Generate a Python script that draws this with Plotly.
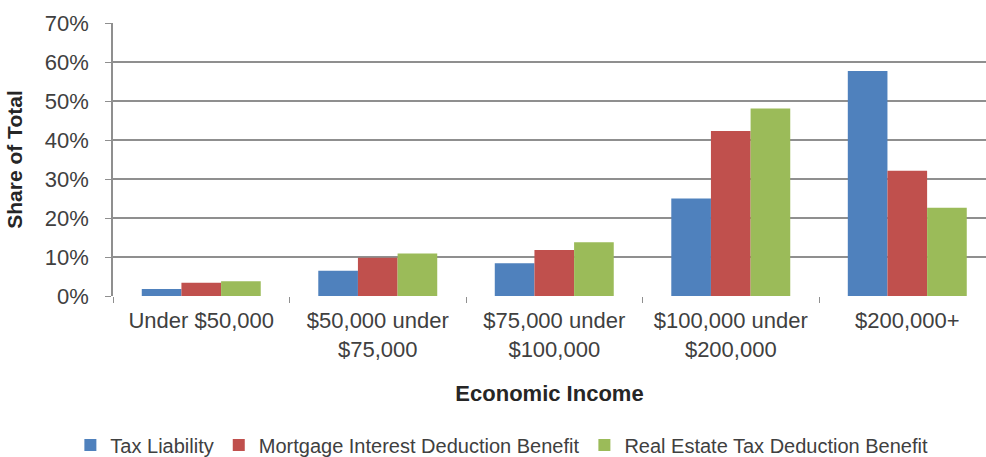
import plotly.graph_objects as go

categories = ["Under $50,000", "$50,000 under<br>$75,000", "$75,000 under<br>$100,000",
              "$100,000 under<br>$200,000", "$200,000+"]
tax_liability = [1.8, 6.5, 8.4, 25.0, 57.7]
mortgage_interest = [3.4, 9.8, 11.8, 42.3, 32.1]
real_estate_tax = [3.8, 10.9, 13.8, 48.1, 22.6]
y_ticks = [0, 10, 20, 30, 40, 50, 60, 70]
y_tick_labels = [f"{v}%" for v in y_ticks]

FONT = "Arial, 'Liberation Sans', sans-serif"

fig = go.Figure()
for name, vals, color in [
    ("Tax Liability", tax_liability, "#4F81BD"),
    ("Mortgage Interest Deduction Benefit", mortgage_interest, "#C0504D"),
    ("Real Estate Tax Deduction Benefit", real_estate_tax, "#9BBB59"),
]:
    fig.add_trace(go.Bar(x=categories, y=vals, name=name, marker=dict(color=color, line=dict(width=0))))

fig.update_layout(
    width=986, height=457,
    margin=dict(l=113, r=0, t=23, b=161, autoexpand=False),
    paper_bgcolor="white", plot_bgcolor="white",
    barmode="group", bargap=0.326, bargroupgap=0,
    font=dict(family=FONT, size=22, color="#404040"),
    showlegend=True,
    legend=dict(orientation="h", xref="container", x=0.509, xanchor="center",
                yref="container", y=0.026, yanchor="middle",
                font=dict(size=20, color="#404040"), itemwidth=30,
                traceorder="normal"),
    xaxis=dict(
        range=[-0.5, 4.446], showgrid=False, showline=False,
        ticks="outside", tickson="boundaries", ticklen=6, tickcolor="#8f8f8f",
        tickfont=dict(size=22, color="#404040"), ticklabelstandoff=9,
        title=dict(text="<b>Economic Income</b>", font=dict(size=22, color="#262626"), standoff=25),
        zeroline=False, automargin=False,
    ),
    yaxis=dict(
        range=[0, 70], tickvals=y_ticks, ticktext=y_tick_labels,
        showgrid=True, gridcolor="#8f8f8f", gridwidth=1.5,
        showline=True, linecolor="#8f8f8f", linewidth=1.5,
        ticks="outside", ticklen=6, tickcolor="#8f8f8f",
        tickfont=dict(size=22, color="#404040"), ticklabelstandoff=12,
        title=dict(text="<b>Share of Total</b>", font=dict(size=21, color="#262626"), standoff=16),
        zeroline=False, automargin=False,
    ),
)

fig.write_html("out.html")
